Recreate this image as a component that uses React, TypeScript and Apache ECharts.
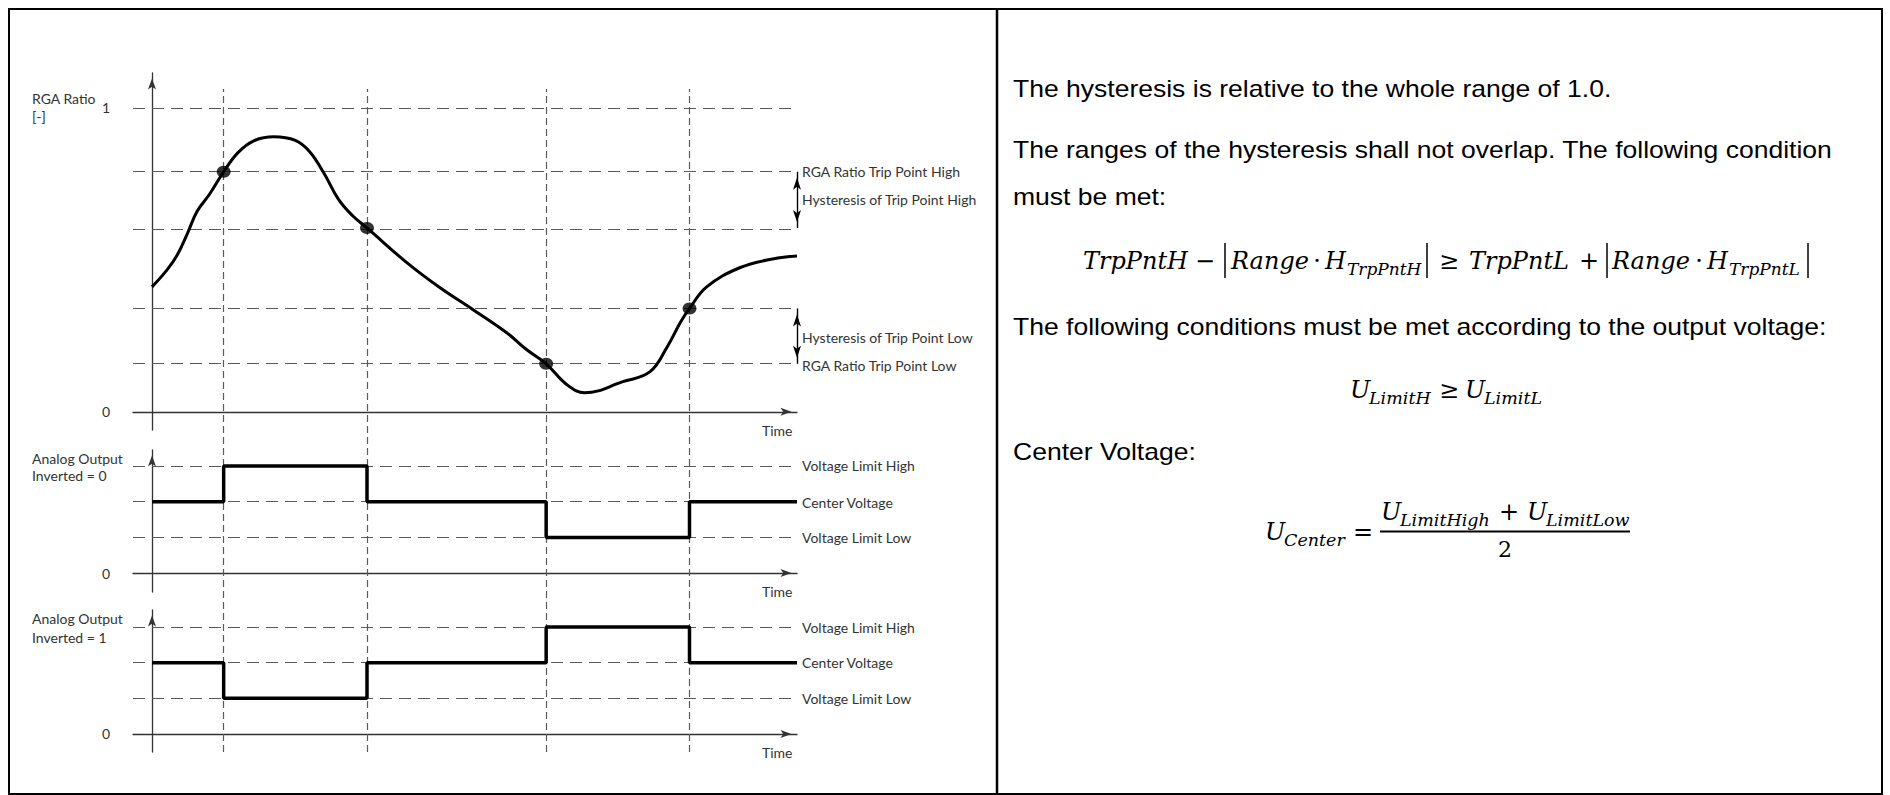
import React, { useEffect, useRef } from "react";
import * as echarts from "echarts";

// ---------- data ----------
const TIME_MIN = -0.265;
const TIME_MAX = 9;
const EVENT_TIMES = [1, 3, 5.5, 7.5];

const RGA_TIME = [0, 0.21, 0.35, 0.5, 0.63, 0.8, 1, 1.2, 1.42, 1.7, 2.0, 2.2, 2.4, 2.6, 2.8, 3, 3.56, 4.02, 4.48, 4.95, 5.23, 5.5, 5.79, 6.04, 6.57, 6.95, 7.19, 7.37, 7.5, 7.74, 8.2, 8.66, 9];
const RGA_VALUE = [0.411, 0.467, 0.515, 0.59, 0.66, 0.715, 0.79, 0.853, 0.892, 0.905, 0.893, 0.856, 0.785, 0.7, 0.645, 0.605, 0.49, 0.408, 0.336, 0.26, 0.204, 0.158, 0.089, 0.0625, 0.099, 0.132, 0.214, 0.293, 0.34, 0.411, 0.474, 0.503, 0.513];
const RGA_LEVELS = [1, 0.79, 0.605, 0.34, 0.158];
const RGA_TICKS = [0, 1];
const TRIP_TIME = [1, 3, 5.5, 7.5];
const TRIP_VALUE = [0.79, 0.605, 0.158, 0.34];
const HYST_HIGH = [0.79, 0.605];
const HYST_LOW = [0.34, 0.158];

const VOLTAGE_LEVELS = [3, 2, 1];
const OUT_TIME = [0, 1, 3, 5.5, 7.5, 9];
const OUT_INV0 = [2, 3, 2, 1, 2, 2];
const OUT_INV1 = [2, 1, 2, 3, 2, 2];
const OUT_TICKS = [0];

const PANEL_TITLES = [
  ["RGA Ratio", "[-]"],
  ["Analog Output", "Inverted = 0"],
  ["Analog Output", "Inverted = 1"],
];
const RGA_LABELS = ["RGA Ratio Trip Point High", "Hysteresis of Trip Point High", "Hysteresis of Trip Point Low", "RGA Ratio Trip Point Low"];
const VOLTAGE_LABELS = ["Voltage Limit High", "Center Voltage", "Voltage Limit Low"];
const TIME_LABEL = "Time";
const PARAGRAPHS = [
  "The hysteresis is relative to the whole range of 1.0.",
  "The ranges of the hysteresis shall not overlap. The following condition",
  "must be met:",
  "The following conditions must be met according to the output voltage:",
  "Center Voltage:",
];

// ---------- helpers ----------
const LATO = "Lato, 'Open Sans', sans-serif";
const ARIAL = "'Liberation Sans', Arial, sans-serif";
const SERIF = "'DejaVu Serif', serif";

function txt(text: string, x: number, y: number, size: number, family: string, o: any = {}) {
  return {
    type: "text",
    x,
    y,
    scaleX: o.scaleX ?? 1,
    silent: true,
    z: 10,
    style: {
      text,
      fill: o.color ?? "#000",
      font: `${o.fstyle ?? "normal"} ${size}px ${family}`,
      align: o.align ?? "left",
      verticalAlign: "middle",
    },
  };
}
// text placed by its alphabetic baseline
function bl(text: string, x: number, baseline: number, size: number, family: string, o: any = {}) {
  return txt(text, x, baseline - 0.3465 * size, size, family, o);
}
const mi = (text: string, x: number, b: number, size = 24) => bl(text, x, b, size, SERIF, { fstyle: "italic" });
const mu = (text: string, cx: number, b: number, size = 24) => bl(text, cx, b, size, SERIF, { align: "center" });
const bar = (x: number, y1: number, y2: number) => ({
  type: "line",
  silent: true,
  z: 10,
  shape: { x1: x, y1, x2: x, y2 },
  style: { stroke: "#000", lineWidth: 1.5 },
});

const PANELS = [
  { top: 73, height: 357, yMin: -0.06, yMax: 1.115, ticks: RGA_TICKS },
  { top: 450, height: 142, yMin: -0.53, yMax: 3.45, ticks: OUT_TICKS },
  { top: 610, height: 142, yMin: -0.505, yMax: 3.475, ticks: OUT_TICKS },
];

const AXIS_COLOR = "#333";
const DASH_COLOR = "#5a5a5a";

export default function App() {
  const ref = useRef<HTMLDivElement>(null);

  useEffect(() => {
    if (!ref.current) return;
    const chart = echarts.init(ref.current, null, { renderer: "svg" });

    const grids: any[] = PANELS.map((p) => ({ left: 133, width: 664, top: p.top, height: p.height, containLabel: false }));
    grids.push({ left: 133, width: 664, top: 89, height: 663 });

    const xAxes: any[] = PANELS.map((_, i) => ({
      gridIndex: i,
      type: "value",
      min: TIME_MIN,
      max: TIME_MAX,
      axisLine: {
        show: true,
        onZero: true,
        symbol: ["none", "arrow"],
        symbolSize: [6, 11],
        symbolOffset: [0, -5.5],
        lineStyle: { color: AXIS_COLOR, width: 1.3 },
      },
      axisTick: { show: false },
      axisLabel: { show: false },
      splitLine: { show: false },
    }));
    xAxes.push({ gridIndex: 3, type: "value", min: TIME_MIN, max: TIME_MAX, show: false });

    const yAxes: any[] = PANELS.map((p, i) => ({
      gridIndex: i,
      type: "value",
      min: p.yMin,
      max: p.yMax,
      axisLine: {
        show: true,
        onZero: true,
        symbol: ["none", "arrow"],
        symbolSize: [6, 11],
        symbolOffset: [0, -5.5],
        lineStyle: { color: AXIS_COLOR, width: 1.3 },
      },
      axisTick: { show: false },
      splitLine: { show: false },
      axisLabel: {
        show: true,
        customValues: p.ticks,
        margin: 23,
        color: "#333",
        fontFamily: LATO,
        fontSize: 14,
      },
    }));
    yAxes.push({ gridIndex: 3, type: "value", min: 0, max: 1, show: false });

    const dashedLevels = (gi: number, levels: number[]) => ({
      type: "line",
      xAxisIndex: gi,
      yAxisIndex: gi,
      data: [],
      silent: true,
      markLine: {
        silent: true,
        z: 1,
        symbol: ["none", "none"],
        label: { show: false },
        lineStyle: { type: [12, 7], color: DASH_COLOR, width: 1.2 },
        emphasis: { disabled: true },
        data: levels.map((v) => ({ yAxis: v })),
      },
    });

    const stepSeries = (gi: number, values: number[]) => ({
      type: "line",
      xAxisIndex: gi,
      yAxisIndex: gi,
      step: "end",
      showSymbol: false,
      silent: true,
      z: 3,
      lineStyle: { color: "#000", width: 3.5 },
      data: OUT_TIME.map((t, i) => [t, values[i]]),
    });

    const graphic: any[] = [];
    // frame
    graphic.push({
      type: "rect",
      silent: true,
      z: 10,
      shape: { x: 9, y: 9, width: 1873, height: 785 },
      style: { fill: "none", stroke: "#000", lineWidth: 2 },
    });
    graphic.push({
      type: "line",
      silent: true,
      z: 10,
      shape: { x1: 997, y1: 9, x2: 997, y2: 794 },
      style: { stroke: "#000", lineWidth: 2.5 },
    });

    // left labels
    const lab = (t: string, x: number, y: number) => txt(t, x, y, 14, LATO, { color: "#333" });
    const titleY = [[98.5, 116.5], [458, 475], [618, 637]];
    PANEL_TITLES.forEach((pair, i) => {
      graphic.push(lab(pair[0], 32, titleY[i][0]));
      graphic.push(lab(pair[1], 32, titleY[i][1]));
    });
    const rgaLabY = [171.7, 199, 337, 365];
    RGA_LABELS.forEach((t, i) => graphic.push(lab(t, 802, rgaLabY[i])));
    [430, 591, 752].forEach((y) => graphic.push(lab(TIME_LABEL, 762, y)));
    const vY = [[465, 502, 537], [627, 662.5, 698]];
    vY.forEach((ys) => VOLTAGE_LABELS.forEach((t, i) => graphic.push(lab(t, 802, ys[i]))));

    // right panel paragraphs
    const pb = [96.7, 158, 205, 335, 460];
    PARAGRAPHS.forEach((t, i) => graphic.push(bl(t, 1013, pb[i], 24, ARIAL, { scaleX: 1.105 })));

    // formula 1
    graphic.push(mi("TrpPntH", 1083, 269));
    graphic.push(mu("\u2212", 1205, 269));
    graphic.push(bar(1225, 243, 278));
    graphic.push(mi("Range", 1231, 269));
    graphic.push(mu("\u00b7", 1317, 269));
    graphic.push(mi("H", 1325, 269));
    graphic.push(mi("TrpPntH", 1347, 275, 17));
    graphic.push(bar(1427, 243, 278));
    graphic.push(mu("\u2265", 1449, 269));
    graphic.push(mi("TrpPntL", 1469, 269));
    graphic.push(mu("+", 1589, 269));
    graphic.push(bar(1607, 243, 278));
    graphic.push(mi("Range", 1612, 269));
    graphic.push(mu("\u00b7", 1699, 269));
    graphic.push(mi("H", 1707, 269));
    graphic.push(mi("TrpPntL", 1729, 275, 17));
    graphic.push(bar(1808, 243, 278));

    // formula 2
    graphic.push(mi("U", 1350, 398));
    graphic.push(mi("LimitH", 1369, 404, 17.5));
    graphic.push(mu("\u2265", 1449, 398));
    graphic.push(mi("U", 1465, 398));
    graphic.push(mi("LimitL", 1484, 404, 17.5));

    // formula 3
    graphic.push(mi("U", 1265, 540));
    graphic.push(mi("Center", 1284, 546, 17.5));
    graphic.push(mu("=", 1363, 540));
    graphic.push(mi("U", 1381, 520));
    graphic.push(mi("LimitHigh", 1400, 526, 17.5));
    graphic.push(mu("+", 1509, 520));
    graphic.push(mi("U", 1527, 520));
    graphic.push(mi("LimitLow", 1546, 526, 17.5));
    graphic.push({
      type: "line",
      silent: true,
      z: 10,
      shape: { x1: 1380, y1: 531.5, x2: 1630, y2: 531.5 },
      style: { stroke: "#000", lineWidth: 1.8 },
    });
    graphic.push(mu("2", 1505, 557, 22));

    const option: any = {
      animation: false,
      backgroundColor: "#fff",
      grid: grids,
      xAxis: xAxes,
      yAxis: yAxes,
      graphic,
      series: [
        // vertical event lines
        {
          type: "line",
          xAxisIndex: 3,
          yAxisIndex: 3,
          data: [],
          silent: true,
          markLine: {
            silent: true,
            z: 1,
            symbol: ["none", "none"],
            label: { show: false },
            lineStyle: { type: [7, 4], color: DASH_COLOR, width: 1.2 },
            emphasis: { disabled: true },
            data: EVENT_TIMES.map((t) => ({ xAxis: t })),
          },
        },
        dashedLevels(0, RGA_LEVELS),
        {
          type: "line",
          xAxisIndex: 0,
          yAxisIndex: 0,
          smooth: 0.4,
          showSymbol: false,
          silent: true,
          z: 3,
          lineStyle: { color: "#000", width: 3 },
          data: RGA_TIME.map((t, i) => [t, RGA_VALUE[i]]),
        },
        {
          type: "scatter",
          xAxisIndex: 0,
          yAxisIndex: 0,
          silent: true,
          z: 4,
          symbol: "circle",
          symbolSize: [14, 12],
          itemStyle: { color: "#000" },
          data: TRIP_TIME.map((t, i) => [t, TRIP_VALUE[i]]),
        },
        {
          type: "line",
          xAxisIndex: 0,
          yAxisIndex: 0,
          data: [],
          silent: true,
          markLine: {
            silent: true,
            z: 5,
            symbol: ["arrow", "arrow"],
            symbolSize: [6, 12],
            symbolOffset: [[0, 6], [0, 6]],
            label: { show: false },
            lineStyle: { type: "solid", color: "#000", width: 1.4 },
            emphasis: { disabled: true },
            data: [
              [{ coord: [TIME_MAX, HYST_HIGH[0]] }, { coord: [TIME_MAX, HYST_HIGH[1]] }],
              [{ coord: [TIME_MAX, HYST_LOW[0]] }, { coord: [TIME_MAX, HYST_LOW[1]] }],
            ],
          },
        },
        dashedLevels(1, VOLTAGE_LEVELS),
        stepSeries(1, OUT_INV0),
        dashedLevels(2, VOLTAGE_LEVELS),
        stepSeries(2, OUT_INV1),
      ],
    };

    chart.setOption(option);
    return () => chart.dispose();
  }, []);

  return (
    <div
      ref={ref}
      style={{ position: "fixed", left: 0, top: 0, width: 1890, height: 795, background: "#fff" }}
    />
  );
}
